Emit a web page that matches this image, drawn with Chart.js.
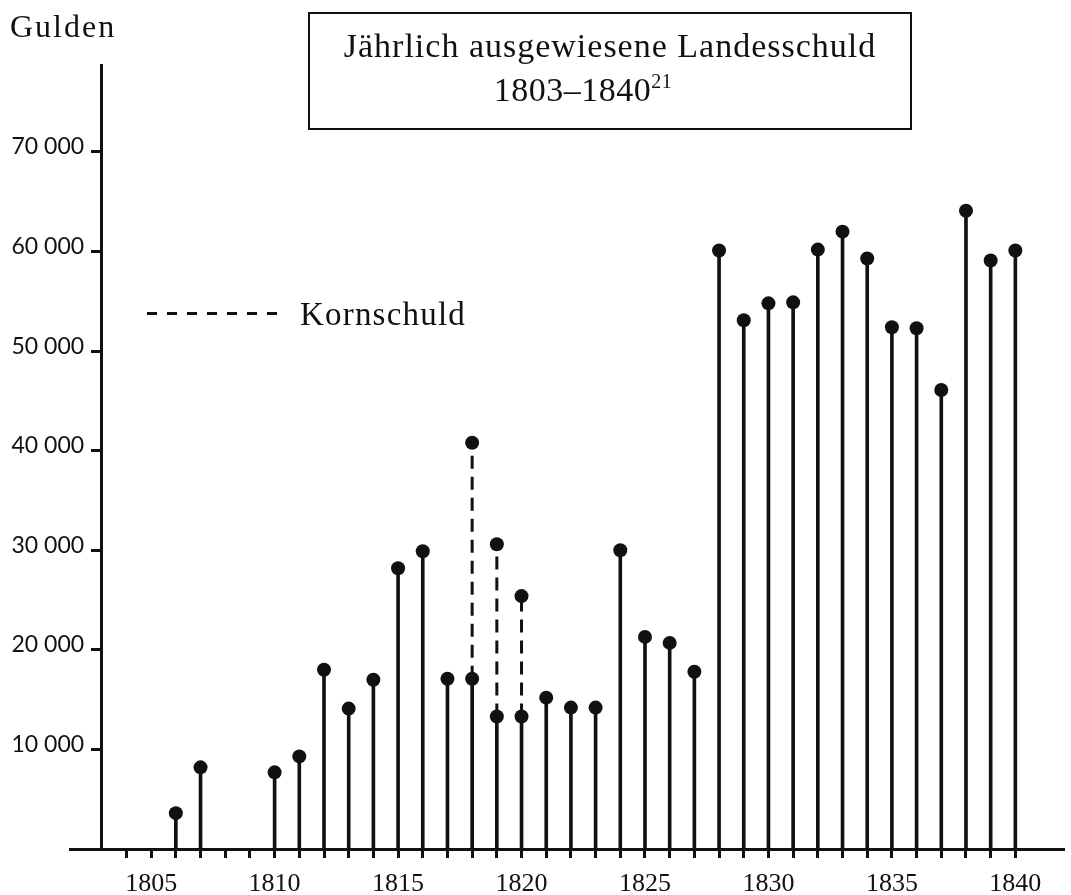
<!DOCTYPE html>
<html><head><meta charset="utf-8">
<script src="https://cdn.jsdelivr.net/npm/chart.js@4.4.1/dist/chart.umd.min.js"></script>
<style>
html,body{margin:0;padding:0;background:#fff;}
#wrap{position:relative;width:1071px;height:895px;overflow:hidden;background:#fff;}
#c{position:absolute;left:0;top:0;}
.t{position:absolute;font-family:"Liberation Serif",serif;color:#111;white-space:nowrap;}
#unit{left:10px;top:8px;font-size:32px;line-height:36px;letter-spacing:2px;}
#titlebox{left:308px;top:12px;width:600px;height:104px;border:2px solid #111;text-align:center;font-size:34px;line-height:44px;padding-top:10px;box-sizing:content-box;}
#titlebox .l1{letter-spacing:1px;}
#titlebox .l2{padding-right:54px;letter-spacing:0.5px;}
#titlebox sup{font-size:20px;line-height:0;vertical-align:13px;}
#dash{position:absolute;left:147px;top:312px;width:140px;height:3px;background:repeating-linear-gradient(to right,#111 0 10px,transparent 10px 20px);}
#leg{left:300px;top:295px;font-size:33px;line-height:38px;letter-spacing:1.2px;}
</style></head>
<body>
<div id="wrap">
<canvas id="c" width="1071" height="895"></canvas>
<div class="t" id="unit">Gulden</div>
<div class="t" id="titlebox"><div class="l1">Jährlich ausgewiesene Landesschuld</div><div class="l2">1803–1840<sup>21</sup></div></div>
<div id="dash"></div>
<div class="t" id="leg">Kornschuld</div>
</div>
<script>
const years = [1806,1807,1810,1811,1812,1813,1814,1815,1816,1817,1818,1819,1820,1821,1822,1823,1824,1825,1826,1827,1828,1829,1830,1831,1832,1833,1834,1835,1836,1837,1838,1839,1840];
const debt  = [3600,8200,7700,9300,18000,14100,17000,28200,29900,17100,17100,13300,13300,15200,14200,14200,30000,21300,20700,17800,60100,53100,54800,54900,60200,62000,59300,52400,52300,46100,64100,59100,60100];
const kornYears = [1818,1819,1820];
const kornBase  = [17100,13300,13300];
const kornTotal = [40800,30600,25400];
const tickYears = [1804,1805,1806,1807,1808,1809,1810,1811,1812,1813,1814,1815,1816,1817,1818,1819,1820,1821,1822,1823,1824,1825,1826,1827,1828,1829,1830,1831,1832,1833,1834,1835,1836,1837,1838,1839,1840];
const labelYears = [1805,1810,1815,1820,1825,1830,1835,1840];
const yTicks = [10000,20000,30000,40000,50000,60000,70000];

const ink = '#111';
const stemData = years.map((x,i)=>({x:x,y:debt[i]}));
const dotData = stemData.concat(kornYears.map((x,i)=>({x:x,y:kornTotal[i]})));
const kornData = [];
kornYears.forEach((x,i)=>{kornData.push({x:x,y:kornBase[i]});kornData.push({x:x,y:kornTotal[i]});kornData.push({x:x,y:null});});

new Chart(document.getElementById('c'), {
  type:'bar',
  data:{datasets:[
    {type:'scatter',label:'dots',data:dotData,pointRadius:7,pointHoverRadius:7,backgroundColor:ink,borderWidth:0,order:0},
    {type:'line',label:'Kornschuld',data:kornData,borderColor:ink,borderWidth:3,borderDash:[13,8],pointRadius:0,spanGaps:false,fill:false,order:1},
    {type:'bar',label:'Landesschuld',data:stemData,backgroundColor:ink,barThickness:3,order:2}
  ]},
  options:{
    responsive:false,animation:false,devicePixelRatio:1,
    layout:{padding:{top:65,left:70,right:0,bottom:0}},
    plugins:{legend:{display:false},tooltip:{enabled:false},title:{display:false}},
    scales:{
      x:{type:'linear',position:'bottom',min:1801.713,max:1841.97,offset:false,
        afterBuildTicks:s=>{s.ticks=tickYears.map(v=>({value:v}));},
        afterFit:s=>{s.height=46;},
        grid:{display:true,drawOnChartArea:false,drawTicks:true,tickLength:9,tickWidth:3,color:ink,offset:false},
        border:{display:true,width:3,color:ink},
        ticks:{autoSkip:false,maxRotation:0,padding:11,color:ink,font:{family:'"Liberation Serif", serif',size:26},
          callback:v=>labelYears.includes(v)?String(v):''}
      },
      y:{type:'linear',position:{x:1803},min:0,max:78737,
        afterBuildTicks:s=>{s.ticks=yTicks.map(v=>({value:v}));},
        afterFit:s=>{s.width=0;},
        grid:{display:true,drawOnChartArea:false,drawTicks:true,tickLength:9,tickWidth:3,color:ink},
        border:{display:true,width:3,color:ink},
        ticks:{padding:8,labelOffset:-5,color:ink,font:{family:'Lato, sans-serif',size:23},
          callback:v=>String(v/1000)+' 000   '}
      }
    }
  }
});
</script>
</body></html>
